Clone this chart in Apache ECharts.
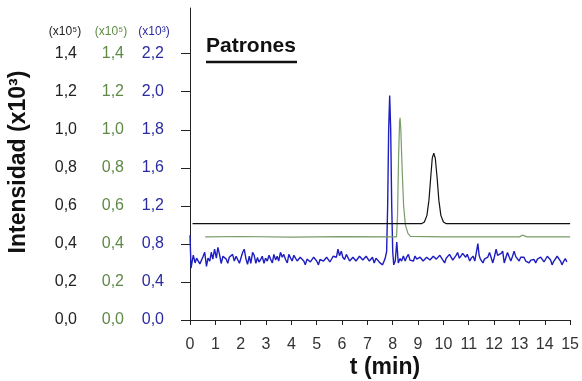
<!DOCTYPE html>
<html>
<head>
<meta charset="utf-8">
<script src="https://cdn.jsdelivr.net/npm/echarts@6/dist/echarts.min.js"></script>
<style>
html,body{margin:0;padding:0;background:#fff;}
#chart{width:582px;height:381px;}
</style>
</head>
<body>
<div id="chart"></div>
<script>
// Tick labels for the three y scales (black, green, blue)
const tickValues = [0, 0.2, 0.4, 0.6, 0.8, 1.0, 1.2, 1.4];
const blackLabels = ['0,0','0,2','0,4','0,6','0,8','1,0','1,2','1,4'];
const greenLabels = ['0,0','0,2','0,4','0,6','0,8','1,0','1,2','1,4'];
const blueLabels  = ['0,0','0,4','0,8','1,2','1,6','1,8','2,0','2,2'];
const scaleHeaders = ['(x10\u2075)', '(x10\u2075)', '(x10\u00b3)'];
const xTicks = [0,1,2,3,4,5,6,7,8,9,10,11,12,13,14,15];

// Series [t (min), value on the chart's scale]
const blackTrace = [[0.1,0.507],[5,0.507],[9.15,0.507],[9.25,0.515],[9.35,0.55],[9.43,0.63],[9.5,0.75],[9.56,0.85],[9.62,0.877],[9.68,0.85],[9.75,0.75],[9.82,0.63],[9.9,0.55],[10.0,0.515],[10.1,0.507],[11.4,0.507],[11.45,0.512],[11.5,0.507],[12.9,0.507],[12.95,0.513],[13.0,0.507],[15,0.507]];
const greenTrace = [[0.6,0.437],[2,0.439],[4,0.436],[6,0.438],[8.15,0.437],[8.19,0.55],[8.23,0.85],[8.27,1.04],[8.29,1.063],[8.32,1.0],[8.37,0.8],[8.43,0.6],[8.5,0.5],[8.6,0.455],[8.7,0.44],[10,0.437],[13.0,0.437],[13.12,0.446],[13.3,0.437],[15,0.437]];
const blueTrace = [[0.0,0.446],[0.04,0.273],[0.13,0.341],[0.2,0.3],[0.26,0.325],[0.39,0.295],[0.52,0.335],[0.58,0.356],[0.65,0.282],[0.71,0.325],[0.78,0.31],[0.84,0.356],[0.9,0.32],[0.97,0.372],[1.04,0.325],[1.1,0.382],[1.17,0.341],[1.23,0.297],[1.3,0.335],[1.36,0.345],[1.43,0.32],[1.49,0.298],[1.55,0.33],[1.62,0.32],[1.68,0.345],[1.75,0.31],[1.82,0.335],[1.88,0.33],[1.95,0.298],[2.02,0.33],[2.08,0.356],[2.14,0.372],[2.21,0.32],[2.27,0.293],[2.34,0.335],[2.4,0.298],[2.47,0.356],[2.53,0.341],[2.6,0.298],[2.66,0.328],[2.72,0.305],[2.79,0.318],[2.85,0.335],[2.92,0.298],[2.98,0.325],[3.05,0.31],[3.12,0.34],[3.18,0.32],[3.25,0.3],[3.31,0.345],[3.38,0.315],[3.44,0.335],[3.5,0.31],[3.57,0.356],[3.64,0.33],[3.7,0.345],[3.77,0.318],[3.84,0.3],[3.9,0.345],[3.97,0.325],[4.03,0.31],[4.1,0.34],[4.16,0.332],[4.23,0.31],[4.29,0.3],[4.35,0.33],[4.42,0.323],[4.49,0.31],[4.55,0.29],[4.62,0.32],[4.68,0.327],[4.75,0.305],[4.81,0.3],[4.88,0.33],[4.94,0.336],[5.0,0.31],[5.07,0.29],[5.13,0.318],[5.2,0.327],[5.27,0.31],[5.33,0.3],[5.39,0.33],[5.45,0.336],[5.52,0.305],[5.58,0.31],[5.65,0.335],[5.71,0.345],[5.78,0.33],[5.84,0.372],[5.9,0.338],[5.97,0.362],[6.03,0.33],[6.1,0.318],[6.17,0.345],[6.23,0.341],[6.3,0.31],[6.36,0.3],[6.43,0.33],[6.49,0.336],[6.55,0.31],[6.62,0.31],[6.69,0.335],[6.75,0.336],[6.82,0.315],[6.88,0.318],[6.95,0.335],[7.01,0.336],[7.08,0.31],[7.14,0.31],[7.2,0.33],[7.27,0.3],[7.34,0.325],[7.4,0.318],[7.5,0.3],[7.6,0.29],[7.7,0.323],[7.76,0.36],[7.8,0.6],[7.84,1.0],[7.88,1.18],[7.92,1.0],[7.96,0.6],[8.0,0.36],[8.04,0.29],[8.1,0.31],[8.16,0.41],[8.22,0.3],[8.29,0.323],[8.35,0.31],[8.42,0.336],[8.49,0.31],[8.55,0.33],[8.62,0.345],[8.68,0.315],[8.75,0.323],[8.82,0.31],[8.88,0.336],[8.95,0.32],[9.01,0.31],[9.08,0.33],[9.14,0.323],[9.2,0.31],[9.27,0.3],[9.34,0.33],[9.4,0.336],[9.47,0.315],[9.53,0.323],[9.6,0.335],[9.66,0.345],[9.72,0.32],[9.79,0.318],[9.86,0.34],[9.92,0.336],[9.98,0.315],[10.05,0.3],[10.11,0.325],[10.17,0.323],[10.24,0.345],[10.3,0.341],[10.37,0.315],[10.43,0.323],[10.5,0.34],[10.56,0.355],[10.63,0.325],[10.69,0.336],[10.76,0.35],[10.82,0.341],[10.88,0.33],[10.94,0.345],[11.04,0.31],[11.1,0.325],[11.17,0.336],[11.24,0.31],[11.3,0.315],[11.36,0.402],[11.41,0.34],[11.46,0.32],[11.51,0.33],[11.56,0.3],[11.62,0.32],[11.69,0.31],[11.75,0.33],[11.82,0.355],[11.88,0.33],[11.95,0.3],[12.01,0.33],[12.08,0.372],[12.14,0.34],[12.21,0.332],[12.28,0.35],[12.34,0.362],[12.4,0.3],[12.47,0.33],[12.53,0.355],[12.6,0.33],[12.66,0.31],[12.73,0.335],[12.79,0.362],[12.86,0.332],[12.92,0.325],[12.99,0.31],[13.05,0.33],[13.12,0.323],[13.18,0.33],[13.25,0.31],[13.32,0.32],[13.38,0.3],[13.45,0.315],[13.51,0.323],[13.58,0.318],[13.64,0.3],[13.71,0.32],[13.77,0.31],[13.84,0.33],[13.9,0.323],[13.97,0.305],[14.03,0.315],[14.1,0.335],[14.16,0.332],[14.23,0.315],[14.29,0.29],[14.36,0.31],[14.42,0.315],[14.49,0.335],[14.55,0.332],[14.62,0.31],[14.68,0.29],[14.75,0.31],[14.81,0.323],[14.87,0.305]];

const FONT = '"Liberation Sans", Arial, sans-serif';
const chart = echarts.init(document.getElementById('chart'), null, {renderer: 'canvas'});

chart.setOption({
  animation: false,
  backgroundColor: '#ffffff',
  grid: {left: 190, right: 7, top: 8, bottom: 61},
  xAxis: {
    type: 'value', min: 0, max: 15, interval: 1,
    axisLine: {lineStyle: {color: '#222', width: 1}},
    axisTick: {length: 5, lineStyle: {color: '#222'}},
    axisLabel: {color: '#333', fontSize: 16, fontFamily: FONT, margin: 17,
      formatter: v => xTicks.indexOf(Math.round(v)) >= 0 ? String(Math.round(v)) : ''},
    splitLine: {show: false}
  },
  yAxis: {
    type: 'value', min: 0, max: 1.64,
    axisLine: {show: true, lineStyle: {color: '#222', width: 1}},
    axisTick: {show: true, length: 9, customValues: tickValues, lineStyle: {color: '#222'}},
    axisLabel: {
      customValues: tickValues, margin: 26, fontFamily: FONT, fontSize: 16,
      formatter: function (v) {
        const i = Math.round(v / 0.2);
        return '{a|' + blackLabels[i] + '}{b|' + greenLabels[i] + '}{c|' + blueLabels[i] + '}';
      },
      rich: {
        a: {width: 40, align: 'right', color: '#222', fontSize: 16, fontFamily: FONT},
        b: {width: 47, align: 'right', color: '#5f8a45', fontSize: 16, fontFamily: FONT},
        c: {width: 40, align: 'right', color: '#2b2ba0', fontSize: 16, fontFamily: FONT}
      }
    },
    splitLine: {show: false}
  },
  series: [
    {type: 'line', data: blueTrace, showSymbol: false, symbol: 'none',
      lineStyle: {color: '#1e1ec0', width: 1.4}, z: 2},
    {type: 'line', data: greenTrace, showSymbol: false, symbol: 'none',
      lineStyle: {color: '#7a9c68', width: 1.2}, z: 3},
    {type: 'line', data: blackTrace, showSymbol: false, symbol: 'none',
      lineStyle: {color: '#111', width: 1.2}, z: 4}
  ],
  graphic: [
    {type: 'text', x: 65, y: 32, style: {text: scaleHeaders[0], fill: '#222', font: '12px ' + FONT, textAlign: 'center', textVerticalAlign: 'middle'}},
    {type: 'text', x: 111, y: 32, style: {text: scaleHeaders[1], fill: '#5f8a45', font: '12px ' + FONT, textAlign: 'center', textVerticalAlign: 'middle'}},
    {type: 'text', x: 154, y: 32, style: {text: scaleHeaders[2], fill: '#2b2ba0', font: '12px ' + FONT, textAlign: 'center', textVerticalAlign: 'middle'}},
    {type: 'text', x: 206, y: 46, style: {text: 'Patrones', fill: '#111', font: 'bold 21px ' + FONT, textAlign: 'left', textVerticalAlign: 'middle'}},
    {type: 'line', shape: {x1: 206, y1: 62, x2: 297, y2: 62}, style: {stroke: '#111', lineWidth: 2.5}},
    {type: 'text', x: 19, y: 162, rotation: Math.PI / 2, style: {text: 'Intensidad (x10\u00b3)', fill: '#111', font: 'bold 23px ' + FONT, textAlign: 'center', textVerticalAlign: 'middle'}},
    {type: 'text', x: 385, y: 368, style: {text: 't (min)', fill: '#111', font: 'bold 23px ' + FONT, textAlign: 'center', textVerticalAlign: 'middle'}}
  ]
});
</script>
</body>
</html>
